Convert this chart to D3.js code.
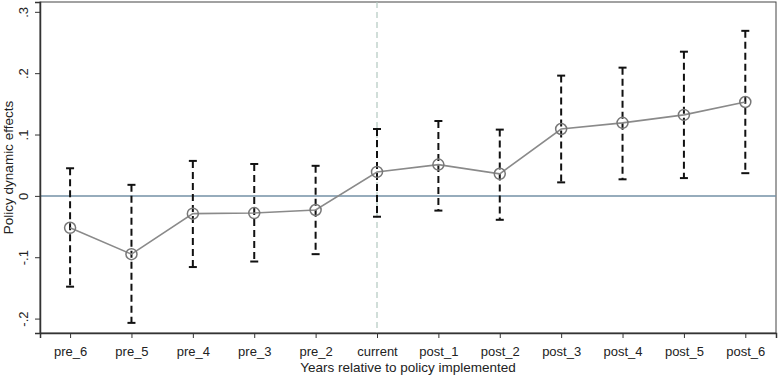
<!DOCTYPE html>
<html>
<head>
<meta charset="utf-8">
<script src="https://cdn.jsdelivr.net/npm/d3@7"></script>
<style>
  body { margin: 0; background: #fff; }
  text { font-family: "Liberation Sans", Arial, sans-serif; fill: #222; }
</style>
</head>
<body>
<div id="chart"></div>
<script>
// periods on the x axis
const periods = ["pre_6", "pre_5", "pre_4", "pre_3", "pre_2", "current",
                 "post_1", "post_2", "post_3", "post_4", "post_5", "post_6"];
// point estimates
const coef  = [-0.052, -0.095, -0.029, -0.028, -0.023, 0.039, 0.051, 0.036, 0.109, 0.119, 0.132, 0.153];
// confidence interval bounds
const upper = [0.045, 0.018, 0.057, 0.052, 0.049, 0.109, 0.122, 0.108, 0.196, 0.209, 0.235, 0.269];
const lower = [-0.148, -0.207, -0.116, -0.107, -0.095, -0.034, -0.024, -0.039, 0.022, 0.027, 0.029, 0.037];
const yTicks = [-0.2, -0.1, 0, 0.1, 0.2, 0.3];
const yTickLabels = ["-.2", "-.1", "0", ".1", ".2", ".3"];

const width = 778, height = 375;
const margin = { top: 2, right: 2, bottom: 42, left: 40 };
const innerW = width - margin.left - margin.right;
const innerH = height - margin.top - margin.bottom;

const svg = d3.select("#chart").append("svg")
  .attr("width", width).attr("height", height);

const g = svg.append("g").attr("transform", `translate(${margin.left},${margin.top})`);

const x = d3.scaleLinear().domain([-0.49, 11.5]).range([0, innerW]);
const y = d3.scaleLinear().domain([-0.2235, 0.316]).range([innerH, 0]);

// frame
g.append("rect")
  .attr("x", 0).attr("y", 0).attr("width", innerW).attr("height", innerH)
  .attr("fill", "none").attr("stroke", "#444").attr("stroke-width", 1);

// zero line
g.append("line")
  .attr("x1", 0).attr("x2", innerW)
  .attr("y1", y(0)).attr("y2", y(0))
  .attr("stroke", "#7390a6").attr("stroke-width", 1.5);

// reference line at "current"
const iCur = periods.indexOf("current");
g.append("line")
  .attr("x1", x(iCur)).attr("x2", x(iCur))
  .attr("y1", 0).attr("y2", innerH)
  .attr("stroke", "#b3c9c0").attr("stroke-width", 1.2)
  .attr("stroke-dasharray", "6,4");

// axes
const xAxis = d3.axisBottom(x)
  .tickValues(d3.range(periods.length))
  .tickFormat(i => periods[i])
  .tickSize(5).tickPadding(9);
const xg = g.append("g").attr("transform", `translate(0,${innerH})`).call(xAxis);
xg.select(".domain").attr("stroke", "#333").attr("stroke-width", 1.5);
xg.selectAll(".tick line").attr("stroke", "#333");
xg.selectAll(".tick text").attr("font-size", 13).attr("fill", "#222");

const yAxis = d3.axisLeft(y)
  .tickValues(yTicks)
  .tickFormat((d, i) => yTickLabels[i])
  .tickSize(5).tickPadding(4);
const yg = g.append("g").call(yAxis);
yg.select(".domain").attr("stroke", "#333").attr("stroke-width", 1.5);
yg.selectAll(".tick line").attr("stroke", "#333");
yg.selectAll(".tick text")
  .attr("font-size", 13).attr("fill", "#222")
  .attr("x", 0).attr("dy", 0)
  .attr("text-anchor", "middle")
  .attr("transform", "translate(-12,0) rotate(-90)");

// axis titles
svg.append("text")
  .attr("x", margin.left + innerW / 2).attr("y", 372)
  .attr("text-anchor", "middle").attr("font-size", 13.5)
  .text("Years relative to policy implemented");
svg.append("text")
  .attr("transform", `translate(13,${margin.top + innerH / 2}) rotate(-90)`)
  .attr("text-anchor", "middle").attr("font-size", 13.5)
  .text("Policy dynamic effects");

// error bars
const eb = g.append("g").selectAll("g").data(periods).join("g");
eb.append("line")
  .attr("x1", (d, i) => x(i)).attr("x2", (d, i) => x(i))
  .attr("y1", (d, i) => y(upper[i])).attr("y2", (d, i) => y(lower[i]))
  .attr("stroke", "#111").attr("stroke-width", 2)
  .attr("stroke-dasharray", "7,4");
eb.append("line")
  .attr("x1", (d, i) => x(i) - 4).attr("x2", (d, i) => x(i) + 4)
  .attr("y1", (d, i) => y(upper[i])).attr("y2", (d, i) => y(upper[i]))
  .attr("stroke", "#111").attr("stroke-width", 2);
eb.append("line")
  .attr("x1", (d, i) => x(i) - 4).attr("x2", (d, i) => x(i) + 4)
  .attr("y1", (d, i) => y(lower[i])).attr("y2", (d, i) => y(lower[i]))
  .attr("stroke", "#111").attr("stroke-width", 2);

// connecting line
const line = d3.line().x((d, i) => x(i)).y(d => y(d));
g.append("path").datum(coef)
  .attr("d", line)
  .attr("fill", "none").attr("stroke", "#8a8a8a").attr("stroke-width", 1.6);

// hollow markers
g.append("g").selectAll("circle").data(coef).join("circle")
  .attr("cx", (d, i) => x(i)).attr("cy", d => y(d))
  .attr("r", 5.5)
  .attr("fill", "none").attr("stroke", "#777").attr("stroke-width", 1.5);
</script>
</body>
</html>
